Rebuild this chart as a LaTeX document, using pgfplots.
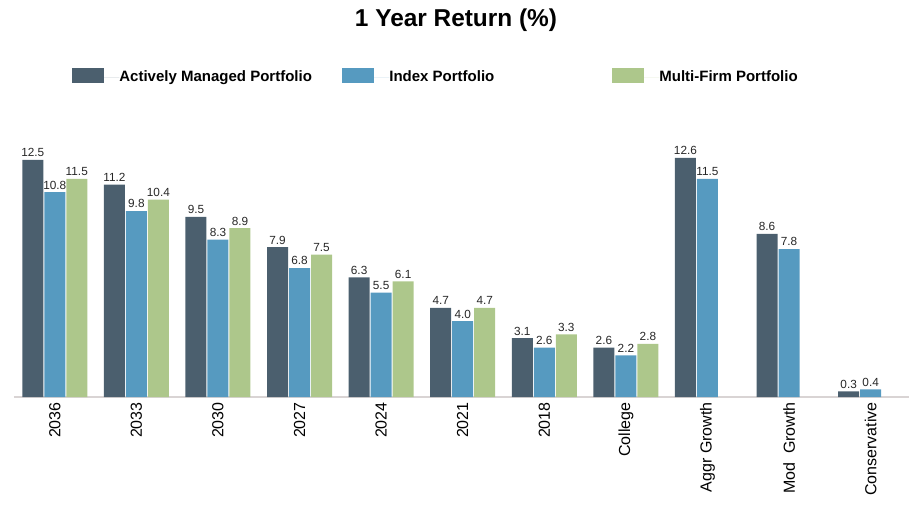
\documentclass[border=0pt]{standalone}
\usepackage{fontspec}
\setmainfont{Liberation Sans}
\usepackage{pgfplots}
\pgfplotsset{compat=1.18}

\definecolor{cDark}{HTML}{4B5F6E}
\definecolor{cBlue}{HTML}{569AC0}
\definecolor{cGreen}{HTML}{ADC78B}
\definecolor{cBase}{HTML}{D9D4D4}

\pgfplotsset{
  legsq/.style={legend image code/.code={
      \fill[##1] (0pt,-2.9pt) rectangle (16pt,4.6pt);
      \path (0pt,0pt) -- (23.5pt,0pt);}},
}

\begin{document}
\begin{tikzpicture}
\useasboundingbox (-7pt,-54pt) rectangle (451.5pt,198.5pt);
\begin{axis}[
  at={(0pt,0pt)}, anchor=south west,
  scale only axis, width=447.5pt, height=123.3pt,
  ybar=0.5pt, bar width=10.5pt,
  xmin=-0.5, xmax=10.47, ymin=0, ymax=13,
  enlargelimits=false, clip=false,
  axis y line=none,
  axis x line*=bottom,
  x axis line style={draw=cBase, line width=0.8pt, -},
  major tick length=0pt,
  xtick=data,
  xticklabels={2036,2033,2030,2027,2024,2021,2018,College,Aggr Growth,Mod~~Growth,Conservative},
  xticklabel style={rotate=90, anchor=east, inner sep=0pt, font=\fontsize{8}{9}\selectfont},
  xticklabel shift=2.5pt,
  /pgf/number format/assume math mode=true,
  nodes near coords={\pgfmathprintnumber[fixed,fixed zerofill,precision=1]{\pgfplotspointmeta}},
  every node near coord/.append style={font=\fontsize{5.9}{7}\selectfont, text=black!85, inner sep=1.3pt},
  legend columns=3,
  legend style={at={(0.0648,1.3017)}, anchor=west, draw=none, fill=none,
    inner sep=0pt, column sep=0pt, nodes={inner sep=0pt},
    font=\fontsize{7.5}{9}\selectfont\bfseries},
]
\addplot[fill=cDark, draw=none, legsq] coordinates {
  (0,12.5) (1,11.2) (2,9.5) (3,7.9) (4,6.3) (5,4.7) (6,3.1) (7,2.6) (8,12.6) (9,8.6) (10,0.3)};
\addlegendentry{\makebox[111.5pt][l]{Actively Managed Portfolio}}
\addplot[fill=cBlue, draw=none, legsq] coordinates {
  (0,10.8) (1,9.8) (2,8.3) (3,6.8) (4,5.5) (5,4.0) (6,2.6) (7,2.2) (8,11.5) (9,7.8) (10,0.4)};
\addlegendentry{\makebox[111.5pt][l]{Index Portfolio}}
\addplot[fill=cGreen, draw=none, legsq] coordinates {
  (0,11.5) (1,10.4) (2,8.9) (3,7.5) (4,6.1) (5,4.7) (6,3.3) (7,2.8)};
\addlegendentry{\makebox[111.5pt][l]{Multi-Firm Portfolio}}
\end{axis}
\node[font=\fontsize{12.2}{14}\selectfont\bfseries] at (221pt,188.5pt) {1 Year Return (\%)};
\end{tikzpicture}
\end{document}
